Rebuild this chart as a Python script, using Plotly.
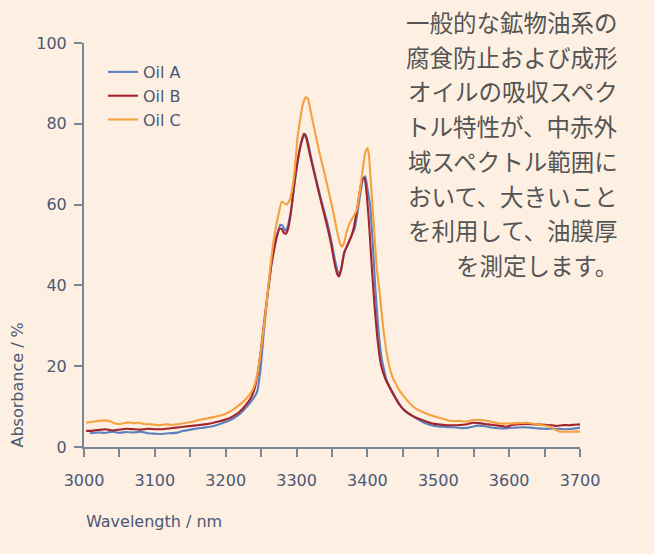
import plotly.graph_objects as go

# Oil A (blue)
wl_a = [3008, 3020, 3030, 3040, 3050, 3060, 3070, 3080, 3090, 3100, 3110, 3120, 3130, 3140,
        3150, 3160, 3170, 3180, 3190, 3200, 3210, 3220, 3230, 3238, 3244, 3249, 3253, 3258,
        3262, 3266, 3270, 3274, 3277, 3280, 3284, 3287, 3290, 3293, 3297, 3302, 3307, 3312,
        3316, 3322, 3328, 3335, 3342, 3348, 3354, 3358, 3361, 3364, 3368, 3373, 3378, 3382,
        3386, 3390, 3394, 3397, 3400, 3404, 3408, 3411, 3415, 3420, 3427, 3440, 3451, 3460,
        3470, 3480, 3490, 3500, 3510, 3520, 3530, 3540, 3548, 3555, 3562, 3570, 3580, 3590,
        3600, 3610, 3620, 3630, 3640, 3650, 3660, 3670, 3680, 3690, 3700]
abs_a = [3.4, 3.6, 3.5, 3.8, 3.5, 3.7, 3.6, 3.8, 3.4, 3.3, 3.2, 3.4, 3.5, 4.0,
         4.3, 4.6, 4.8, 5.1, 5.6, 6.2, 7.0, 8.2, 10.0, 11.8, 13.5, 19.0, 27.0, 36.0,
         42.0, 47.5, 51.0, 53.5, 55.0, 54.8, 53.5, 54.3, 56.5, 59.5, 65.0, 71.0, 75.5, 77.5,
         75.5, 70.5, 66.0, 61.0, 56.5, 52.0, 46.5, 43.5, 42.8, 45.0, 48.5, 50.5, 52.5, 54.0,
         58.0, 62.8, 66.5, 67.0, 64.0, 59.5, 49.0, 39.7, 30.0, 22.0, 16.6, 12.2, 9.2, 8.0,
         7.0, 6.0, 5.4, 5.1, 5.0, 4.9, 4.7, 4.7, 5.0, 5.3, 5.2, 5.0, 4.7, 4.6,
         4.7, 4.8, 4.9, 4.8, 4.6, 4.5, 4.5, 4.5, 4.4, 4.5, 4.8]

# Oil B (red)
wl_b = [3003, 3010, 3020, 3030, 3040, 3050, 3060, 3070, 3080, 3090, 3100, 3110, 3120, 3130,
        3140, 3150, 3160, 3170, 3180, 3190, 3200, 3210, 3220, 3228, 3235, 3240, 3245, 3250,
        3255, 3260, 3264, 3268, 3272, 3276, 3279, 3282, 3285, 3288, 3292, 3296, 3301, 3306,
        3310, 3313, 3318, 3324, 3330, 3337, 3344, 3349, 3353, 3357, 3360, 3363, 3367, 3372,
        3377, 3381, 3385, 3389, 3393, 3396, 3399, 3402, 3406, 3410, 3414, 3419, 3425, 3435,
        3445, 3455, 3465, 3475, 3483, 3490, 3500, 3512, 3525, 3535, 3542, 3549, 3558, 3570,
        3580, 3590, 3596, 3603, 3610, 3625, 3638, 3650, 3660, 3667, 3675, 3685, 3692, 3700]
abs_b = [4.0, 4.0, 4.2, 4.4, 4.1, 4.3, 4.5, 4.4, 4.3, 4.5, 4.4, 4.4, 4.6, 4.8,
         5.0, 5.2, 5.4, 5.6, 5.9, 6.3, 6.8, 7.6, 8.8, 10.3, 12.0, 14.0, 18.0, 24.5,
         32.0, 39.0, 44.5, 48.5, 52.0, 54.0, 54.0, 53.0, 52.8, 54.0, 58.0, 64.0, 70.5, 75.0,
         77.5, 77.0, 73.0, 68.5, 64.0, 59.0, 54.0, 50.0, 46.0, 43.0, 42.2, 44.0, 48.0, 50.0,
         52.0, 54.5, 58.5, 63.0, 66.5, 66.5, 62.5, 56.0, 45.0, 35.0, 27.0, 20.5, 17.0, 13.5,
         10.5, 8.7, 7.6, 6.8, 6.3, 5.9, 5.6, 5.4, 5.4, 5.5, 5.7, 6.0, 5.9, 5.6,
         5.4, 5.2, 5.0, 5.4, 5.6, 5.7, 5.6, 5.5, 5.4, 5.2, 5.4, 5.4, 5.5, 5.6]

# Oil C (orange)
wl_c = [3003, 3015, 3027, 3036, 3046, 3055, 3062, 3070, 3078, 3085, 3095, 3107, 3115, 3125,
        3135, 3145, 3154, 3165, 3175, 3185, 3193, 3201, 3210, 3216, 3222, 3230, 3237, 3241,
        3245, 3249, 3253, 3258, 3262, 3266, 3270, 3275, 3279, 3282, 3286, 3290, 3293, 3297,
        3301, 3305, 3309, 3313, 3316, 3320, 3326, 3332, 3338, 3345, 3352, 3357, 3361, 3364,
        3367, 3371, 3375, 3380, 3385, 3389, 3394, 3397, 3400, 3402, 3405, 3409, 3413, 3418,
        3422, 3428, 3435, 3445, 3455, 3462, 3470, 3480, 3488, 3500, 3516, 3530, 3540, 3549,
        3558, 3568, 3578, 3587, 3600, 3612, 3625, 3640, 3650, 3658, 3665, 3672, 3685, 3700]
abs_c = [6.0, 6.3, 6.6, 6.4, 5.7, 5.8, 6.1, 5.9, 6.0, 5.7, 5.6, 5.4, 5.6, 5.5,
         5.7, 6.0, 6.3, 6.8, 7.1, 7.5, 7.8, 8.3, 9.2, 10.0, 10.8, 12.2, 13.8, 15.5,
         18.5, 23.0, 28.5, 36.0, 43.0, 49.0, 53.7, 58.0, 60.7, 60.5, 60.0, 61.0, 63.0, 68.0,
         76.0, 81.0, 85.0, 86.6, 86.3, 83.0, 78.0, 73.0, 68.8, 63.5, 58.0, 53.5, 50.5, 49.6,
         50.5, 53.5, 55.4, 57.0, 58.7, 63.0, 69.4, 73.0, 74.0, 72.5, 65.0, 55.0, 44.6, 37.0,
         30.0, 22.5, 17.5, 14.0, 11.8, 10.4, 9.3, 8.5, 7.9, 7.3, 6.5, 6.4, 6.3, 6.7,
         6.7, 6.5, 6.1, 5.8, 5.8, 5.9, 6.0, 5.6, 5.3, 5.0, 4.3, 3.8, 3.8, 3.8]

series_names = ["Oil A", "Oil B", "Oil C"]
x_ticks = [3000, 3100, 3200, 3300, 3400, 3500, 3600, 3700]
y_ticks = [0, 20, 40, 60, 80, 100]
note_lines = ["一般的な鉱物油系の", "腐食防止および成形", "オイルの吸収スペク", "トル特性が、中赤外",
              "域スペクトル範囲に", "おいて、大きいこと", "を利用して、油膜厚", "を測定します。"]

colors = ["#5b80bd", "#a3232c", "#f6a13f"]
bg = "#fdf0e3"
axis_col = "#7b8498"
text_col = "#4b5873"
font_fam = "'DejaVu Sans', sans-serif"

fig = go.Figure()
for name, xs, ys, col in zip(series_names, [wl_a, wl_b, wl_c], [abs_a, abs_b, abs_c], colors):
    fig.add_trace(go.Scatter(x=xs, y=ys, mode="lines", name=name,
                             line=dict(color=col, width=2.1, shape="spline", smoothing=0.4)))

L, R, T, B = 84, 74, 43, 107
W, H = 654, 554
pw, ph = W - L - R, H - T - B

fig.update_layout(
    width=W, height=H,
    margin=dict(l=L, r=R, t=T, b=B),
    paper_bgcolor=bg, plot_bgcolor=bg,
    font=dict(family=font_fam, size=16, color=text_col),
    showlegend=True,
    legend=dict(x=(103 - L) / pw, y=1 - (55 - T) / ph, xanchor="left", yanchor="top",
                bgcolor="rgba(0,0,0,0)", font=dict(size=16, color=text_col),
                tracegroupgap=0, itemwidth=30),
    xaxis=dict(range=[3000, 3700], tickvals=x_ticks, ticktext=[str(v) for v in x_ticks],
               showgrid=False, zeroline=False, showline=True, linecolor=axis_col, linewidth=2,
               ticks="outside", ticklen=8, tickwidth=2, tickcolor=axis_col,
               ticklabelstandoff=10,
               minor=dict(dtick=50, tick0=3000, ticks="outside", ticklen=8, tickwidth=2,
                          tickcolor=axis_col, showgrid=False),
               tickfont=dict(size=16, color=text_col), fixedrange=True),
    yaxis=dict(range=[0, 100], tickvals=y_ticks, showgrid=False, zeroline=False,
               showline=True, linecolor=axis_col, linewidth=2,
               ticks="outside", ticklen=8, tickwidth=2, tickcolor=axis_col,
               ticklabelstandoff=4,
               tickfont=dict(size=16, color=text_col), fixedrange=True),
)

# axis titles
fig.add_annotation(text="Wavelength / nm", xref="paper", yref="paper",
                   x=0, y=-(521 - (T + ph)) / ph, xanchor="left", yanchor="middle",
                   showarrow=False, font=dict(size=16, color=text_col))
fig.add_annotation(text="Absorbance / %", xref="paper", yref="paper",
                   x=-(L - 17) / pw, y=-(450 - (T + ph)) / ph, xanchor="center", yanchor="bottom",
                   textangle=-90, showarrow=False, font=dict(size=16, color=text_col))

# note text
for i, line in enumerate(note_lines):
    ypx = 22 + 34.7 * i
    fig.add_annotation(text=line, xref="paper", yref="paper",
                       x=(620 - L) / pw, y=1 - (ypx - T) / ph, xanchor="right", yanchor="middle",
                       showarrow=False,
                       font=dict(size=23.5, color="#555555", family="'Noto Sans CJK JP', sans-serif"))

fig.write_html("out.html", config={"displayModeBar": False},
               post_script="document.body.style.margin='0';document.body.style.background='%s';" % bg)
